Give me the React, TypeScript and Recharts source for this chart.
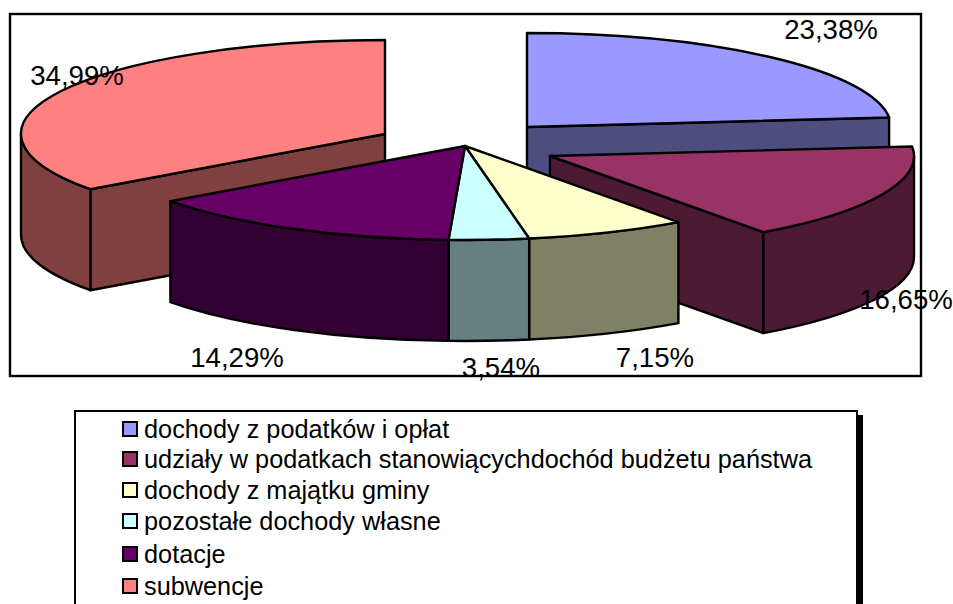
import { PieChart, Pie, Legend } from "recharts";

// Polish budget income split, shares in percent
const categories = [
  "dochody z podatków i opłat",
  "udziały w podatkach stanowiącychdochód budżetu państwa",
  "dochody z majątku gminy",
  "pozostałe dochody własne",
  "dotacje",
  "subwencje",
];
const shares = [23.38, 16.65, 7.15, 3.54, 14.29, 34.99];

const topColors = ["#9999ff", "#993366", "#ffffcc", "#ccffff", "#660066", "#ff8080"];
const wallColors = ["#4d4d80", "#4d1a33", "#808066", "#668080", "#330033", "#804040"];

// slice pull-out on screen, and where each percentage sits
const pullOut = [
  [62, -19],
  [85, 10],
  [0, 0],
  [0, 0],
  [0, 0],
  [-80, -12],
];
const labelSpots = [
  [831, 39],
  [906, 309],
  [655, 367],
  [501, 377],
  [237, 367],
  [77, 85],
];
const legendRowTops = [3, 33, 64, 95, 128, 160];

// subwencje has to be painted first so dotacje sits in front of it
const paintOrder = [5, 0, 1, 2, 3, 4];
const rows = paintOrder.map((i) => ({ name: categories[i], value: shares[i], src: i }));

const startDeg = 90 - (shares.slice(0, 5).reduce((a, b) => a + b, 0) * 3.6);

const CX = 465;
const CY = 146;
const RX = 364;
const RY = 94;
const DEPTH = 101;

const rad = (d: number) => (d * Math.PI) / 180;

function SliceShape(props: any) {
  const src = paintOrder[props.index];
  const [dx, dy] = pullOut[src];
  const ax = props.cx + dx;
  const ay = props.cy + dy;
  let from = 90 - props.startAngle;
  let to = 90 - props.endAngle;
  if (from >= 359.9) {
    from -= 360;
    to -= 360;
  }
  const px = (t: number) => ax + RX * Math.sin(rad(t));
  const py = (t: number) => ay - RY * Math.cos(rad(t));
  const arc = (a: number, b: number, down: number, sweep: number) =>
    `A${RX} ${RY} 0 ${Math.abs(b - a) > 180 ? 1 : 0} ${sweep} ${px(b)} ${py(b) + down}`;

  const prev = (src + 5) % 6;
  const next = (src + 1) % 6;
  const same = (a: number, b: number) => pullOut[a][0] === pullOut[b][0] && pullOut[a][1] === pullOut[b][1];

  const faces: string[] = [];
  const face = (t: number) =>
    `M${ax} ${ay}L${px(t)} ${py(t)}L${px(t)} ${py(t) + DEPTH}L${ax} ${ay + DEPTH}Z`;
  if (Math.sin(rad(from)) < -1e-6 && !same(src, prev)) faces.push(face(from));
  if (Math.sin(rad(to)) > 1e-6 && !same(src, next)) faces.push(face(to));

  const lo = Math.max(from, 90);
  const hi = Math.min(to, 270);
  const shell =
    hi > lo
      ? `M${px(lo)} ${py(lo)}${arc(lo, hi, 0, 1)}L${px(hi)} ${py(hi) + DEPTH}${arc(hi, lo, DEPTH, 0)}Z`
      : null;

  const top = `M${ax} ${ay}L${px(from)} ${py(from)}${arc(from, to, 0, 1)}Z`;
  const line = { stroke: "#000", strokeWidth: 2.4, strokeLinejoin: "round" as const };

  return (
    <g>
      {faces.map((d, i) => (
        <path key={i} d={d} fill={wallColors[src]} {...line} />
      ))}
      {shell && <path d={shell} fill={wallColors[src]} {...line} />}
      <path d={top} fill={topColors[src]} {...line} />
    </g>
  );
}

function shareLabel(props: any) {
  const src = paintOrder[props.index];
  const [x, y] = labelSpots[src];
  return (
    <text
      key={src}
      x={x}
      y={y}
      textAnchor="middle"
      fontFamily="Liberation Sans"
      fontSize={27.6}
      fill="#000"
    >
      {shares[src].toFixed(2).replace(".", ",")}%
    </text>
  );
}

function LegendBox() {
  return (
    <div
      style={{
        position: "absolute",
        left: 74,
        top: 410,
        width: 780,
        height: 240,
        border: "2px solid #000",
        boxShadow: "5px 5px 0 #000",
        background: "#fff",
        fontFamily: "Liberation Sans",
        fontSize: 25.3,
        color: "#000",
      }}
    >
      {categories.map((c, i) => (
        <div
          key={c}
          style={{
            position: "absolute",
            left: 46,
            top: legendRowTops[i],
            height: 28,
            lineHeight: "28px",
            whiteSpace: "nowrap",
            display: "flex",
            alignItems: "center",
          }}
        >
          <span
            style={{
              width: 12,
              height: 12,
              border: "2.5px solid #000",
              background: topColors[i],
              marginRight: 6,
              display: "inline-block",
            }}
          />
          {c}
        </div>
      ))}
    </div>
  );
}

export default function App() {
  return (
    <div style={{ position: "fixed", left: 0, top: 0, width: 953, height: 604, overflow: "hidden", background: "#fff" }}>
      <PieChart width={953} height={604} margin={{ top: 0, right: 0, bottom: 0, left: 0 }}>
        <rect x={10} y={14} width={911} height={362} fill="#fff" stroke="#000" strokeWidth={2.4} />
        <Pie
          data={rows}
          dataKey="value"
          nameKey="name"
          cx={CX}
          cy={CY}
          innerRadius={0}
          outerRadius={RX}
          startAngle={startDeg}
          endAngle={startDeg - 360}
          stroke="none"
          shape={SliceShape}
          label={shareLabel}
          labelLine={false}
          isAnimationActive={false}
        />
        <Legend content={LegendBox} wrapperStyle={{ left: 0, top: 0, width: 953, height: 604 }} />
      </PieChart>
    </div>
  );
}
